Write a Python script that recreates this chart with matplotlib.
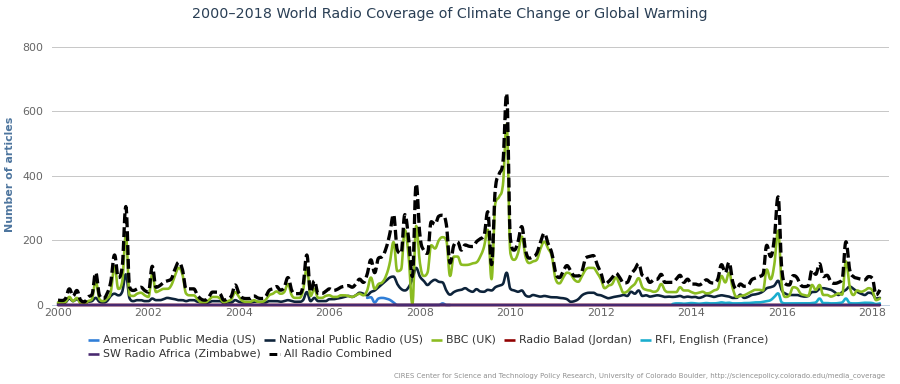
import numpy as np
import matplotlib
matplotlib.use("Agg")
import matplotlib.pyplot as plt
from matplotlib.lines import Line2D

# ------------------------------------------------------------------
# Monthly article counts, Jan 2000 .. Mar 2018
# ------------------------------------------------------------------
first_year = 2000

bbc = [
    8, 8, 10, 25, 12, 22, 5, 3, 12, 18, 75, 18,            # 2000
    12, 20, 40, 120, 50, 70, 215, 30, 28, 35, 38, 30,      # 2001
    25, 95, 40, 45, 50, 50, 60, 90, 115, 95, 35, 30,       # 2002
    30, 18, 8, 8, 15, 25, 25, 20, 8, 12, 18, 40,           # 2003
    25, 12, 10, 10, 15, 10, 10, 15, 30, 35, 42, 35,        # 2004
    40, 65, 30, 22, 22, 45, 115, 28, 50, 22, 22, 28,       # 2005
    30, 25, 25, 30, 30, 28, 25, 30, 35, 30, 45, 85,        # 2006
    50, 65, 70, 90, 130, 195, 105, 110, 232, 150, 3, 245,  # 2007
    130, 90, 100, 185, 175, 200, 210, 200, 90, 150, 150, 125,  # 2008
    124, 125, 129, 132, 150, 180, 233, 80, 315, 335, 370, 560,  # 2009
    160, 140, 160, 212, 150, 130, 135, 140, 175, 196, 175, 150,  # 2010
    80, 67, 85, 100, 95, 78, 72, 90, 110, 115, 115, 100,   # 2011
    80, 52, 60, 65, 85, 62, 38, 42, 55, 65, 83, 55,        # 2012
    47, 45, 41, 45, 65, 45, 40, 40, 40, 55, 45, 45,        # 2013
    40, 36, 38, 41, 36, 38, 45, 50, 90, 70, 100, 50,       # 2014
    25, 28, 30, 36, 42, 47, 47, 45, 110, 80, 125, 230,     # 2015
    60, 25, 30, 55, 52, 35, 31, 28, 62, 47, 62, 31,        # 2016
    31, 26, 30, 36, 32, 135, 57, 31, 45, 41, 45, 52,       # 2017
    45, 15, 20,                                            # 2018
]

npr = [
    5, 5, 8, 20, 12, 18, 8, 5, 10, 12, 22, 10,             # 2000
    8, 12, 28, 35, 30, 40, 95, 20, 12, 15, 15, 12,         # 2001
    12, 20, 15, 15, 18, 22, 20, 18, 15, 15, 12, 15,        # 2002
    15, 10, 8, 6, 8, 12, 12, 12, 6, 8, 8, 15,              # 2003
    10, 8, 8, 8, 10, 10, 8, 8, 12, 12, 12, 10,             # 2004
    12, 15, 12, 10, 10, 15, 40, 12, 22, 12, 12, 12,        # 2005
    18, 18, 20, 22, 25, 28, 25, 30, 38, 35, 30, 40,        # 2006
    45, 55, 65, 75, 85, 88, 65, 50, 45, 55, 80, 115,       # 2007
    88, 75, 62, 72, 78, 72, 70, 45, 32, 40, 45, 47,        # 2008
    52, 45, 41, 49, 42, 41, 47, 45, 55, 60, 65, 100,       # 2009
    50, 45, 41, 45, 30, 26, 31, 28, 26, 28, 26, 24,        # 2010
    24, 22, 21, 18, 10, 12, 18, 30, 36, 38, 38, 32,        # 2011
    30, 25, 21, 24, 26, 28, 31, 28, 41, 35, 45, 28,        # 2012
    30, 26, 28, 30, 28, 25, 26, 25, 26, 28, 24, 26,        # 2013
    24, 25, 22, 25, 30, 28, 25, 28, 30, 28, 26, 22,        # 2014
    22, 32, 22, 25, 31, 33, 36, 42, 52, 55, 60, 75,        # 2015
    45, 35, 31, 31, 31, 28, 26, 28, 40, 41, 50, 52,        # 2016
    50, 47, 40, 31, 40, 47, 57, 50, 41, 35, 31, 38,        # 2017
    35, 20, 22,                                            # 2018
]

combined = [
    15, 14, 20, 50, 28, 45, 15, 10, 25, 32, 100, 30,       # 2000
    20, 35, 72, 155, 85, 115, 305, 55, 45, 50, 55, 45,     # 2001
    40, 120, 55, 60, 70, 75, 80, 110, 132, 110, 50, 50,    # 2002
    50, 30, 18, 15, 25, 40, 40, 35, 15, 20, 28, 62,        # 2003
    36, 22, 20, 20, 28, 22, 20, 25, 45, 50, 57, 46,        # 2004
    55, 85, 45, 35, 35, 60, 155, 40, 75, 36, 36, 42,       # 2005
    50, 45, 48, 55, 58, 60, 55, 65, 80, 70, 95, 140,       # 2006
    100, 145, 150, 175, 220, 280, 170, 160, 280, 205, 88, 375,  # 2007
    215, 170, 160, 258, 250, 275, 278, 250, 130, 185, 195, 170,  # 2008
    186, 182, 181, 196, 205, 215, 289, 125, 360, 405, 440, 655,  # 2009
    205, 170, 195, 243, 170, 145, 150, 160, 195, 222, 190, 160,  # 2010
    100, 85, 105, 122, 105, 90, 90, 105, 146, 150, 153, 125,   # 2011
    100, 65, 72, 85, 98, 85, 68, 70, 95, 110, 128, 92,     # 2012
    88, 70, 78, 80, 95, 70, 70, 70, 80, 92, 70, 80,        # 2013
    65, 65, 62, 68, 78, 70, 68, 80, 125, 100, 132, 70,     # 2014
    50, 65, 58, 60, 78, 83, 88, 95, 185, 150, 205, 335,    # 2015
    110, 65, 62, 91, 85, 62, 57, 60, 108, 95, 128, 88,     # 2016
    92, 72, 67, 70, 80, 196, 109, 88, 83, 80, 78, 88,      # 2017
    83, 31, 47,                                            # 2018
]

# American Public Media: Nov 2006 .. Sep 2008
apm_first_month = (2006, 11)
apm = [22, 24, 8, 20, 22, 20, 16, 8, 0, 0, 0, 0, 0, 0, 0, 0, 0, 0, 0, 0, 5, 0, 0]

# RFI English: Aug 2013 .. Mar 2018
rfi_first_month = (2013, 8)
rfi = [
    3, 5, 5, 4, 5,                                # 2013
    6, 5, 4, 5, 6, 5, 5, 6, 8, 6, 7, 5,           # 2014
    5, 5, 6, 6, 7, 8, 8, 10, 12, 15, 25, 36,      # 2015
    8, 5, 5, 5, 5, 5, 5, 5, 6, 8, 20, 6,          # 2016
    6, 5, 5, 6, 8, 20, 6, 5, 5, 6, 7, 7,          # 2017
    6, 3, 5,                                      # 2018
]

# Radio Balad and SW Radio Africa stay on the zero line, Jan 2000 .. Mar 2018
radio_balad = [
    0, 0, 0, 0, 0, 0, 0, 0, 0, 0, 0, 0,  0, 0, 0, 0, 0, 0, 0, 0, 0, 0, 0, 0,
    0, 0, 0, 0, 0, 0, 0, 0, 0, 0, 0, 0,  0, 0, 0, 0, 0, 0, 0, 0, 0, 0, 0, 0,
    0, 0, 0, 0, 0, 0, 0, 0, 0, 0, 0, 0,  0, 0, 0, 0, 0, 0, 0, 0, 0, 0, 0, 0,
    0, 0, 0, 0, 0, 0, 0, 0, 0, 0, 0, 0,  0, 0, 0, 0, 0, 0, 0, 0, 0, 0, 0, 0,
    0, 0, 0, 0, 0, 0, 0, 0, 0, 0, 0, 0,  0, 0, 0, 0, 0, 0, 0, 0, 0, 0, 0, 0,
    0, 0, 0, 0, 0, 0, 0, 0, 0, 0, 0, 0,  0, 0, 0, 0, 0, 0, 0, 0, 0, 0, 0, 0,
    0, 0, 0, 0, 0, 0, 0, 0, 0, 0, 0, 0,  0, 0, 0, 0, 0, 0, 0, 0, 0, 0, 0, 0,
    0, 0, 0, 0, 0, 0, 0, 0, 0, 0, 0, 0,  0, 0, 0, 0, 0, 0, 0, 0, 0, 0, 0, 0,
    0, 0, 0, 0, 0, 0, 0, 0, 0, 0, 0, 0,  0, 0, 0, 0, 0, 0, 0, 0, 0, 0, 0, 0,
    0, 0, 0,
]
sw_radio_africa = list(radio_balad)

series_names = ["American Public Media (US)", "National Public Radio (US)", "BBC (UK)",
                "Radio Balad (Jordan)", "RFI, English (France)",
                "SW Radio Africa (Zimbabwe)", "All Radio Combined"]
year_ticks = [2000, 2002, 2004, 2006, 2008, 2010, 2012, 2014, 2016, 2018]
y_ticks = [0, 200, 400, 600, 800]

title = "2000\u20132018 World Radio Coverage of Climate Change or Global Warming"
y_title = "Number of articles"
credit = ("CIRES Center for Science and Technology Policy Research, University of Colorado Boulder, "
          "http://sciencepolicy.colorado.edu/media_coverage")

# ------------------------------------------------------------------
W, H = 900, 384
PX = 72.0 / 100.0  # points per pixel at dpi 100


def month_axis(first, n):
    y0, m0 = first
    return (y0 + (m0 - 1) / 12.0) + np.arange(n) / 12.0


def hc_spline(x, y, smoothing=1.5, n=10):
    """Highcharts-style spline through the points, sampled as Bezier curves."""
    x = np.asarray(x, float)
    y = np.asarray(y, float)
    N = len(x)
    lcx, lcy, rcx, rcy = x.copy(), y.copy(), x.copy(), y.copy()
    d = smoothing + 1.0
    for i in range(1, N - 1):
        px, py = x[i], y[i]
        lx, ly = x[i - 1], y[i - 1]
        nx, ny = x[i + 1], y[i + 1]
        lX = (smoothing * px + lx) / d
        lY = (smoothing * py + ly) / d
        rX = (smoothing * px + nx) / d
        rY = (smoothing * py + ny) / d
        if rX != lX:
            corr = ((rY - lY) * (rX - px)) / (rX - lX) + py - rY
            lY += corr
            rY += corr
        if lY > ly and lY > py:
            lY = max(ly, py); rY = 2 * py - lY
        elif lY < ly and lY < py:
            lY = min(ly, py); rY = 2 * py - lY
        if rY > ny and rY > py:
            rY = max(ny, py); lY = 2 * py - rY
        elif rY < ny and rY < py:
            rY = min(ny, py); lY = 2 * py - rY
        lcx[i], lcy[i], rcx[i], rcy[i] = lX, lY, rX, rY
    t = np.linspace(0, 1, n + 1)[1:]
    a, b, c, e = (1 - t) ** 3, 3 * (1 - t) ** 2 * t, 3 * (1 - t) * t ** 2, t ** 3
    xs, ys = [x[:1]], [y[:1]]
    for i in range(N - 1):
        xs.append(a * x[i] + b * rcx[i] + c * lcx[i + 1] + e * x[i + 1])
        ys.append(a * y[i] + b * rcy[i] + c * lcy[i + 1] + e * y[i + 1])
    return np.concatenate(xs), np.concatenate(ys)


fig = plt.figure(figsize=(W / 100, H / 100), dpi=100)
fig.patch.set_facecolor("white")

ax_left, ax_right, ax_top, ax_bottom = 52, 889, 46.7, 305
ax = fig.add_axes([ax_left / W, 1 - ax_bottom / H, (ax_right - ax_left) / W, (ax_bottom - ax_top) / H])

px_per_year = 45.24
x_first_px = 58
ax.set_xlim(first_year - (x_first_px - ax_left) / px_per_year,
            first_year + (ax_right - x_first_px) / px_per_year)
ax.set_ylim(0, 800)

colors = {
    "apm": "#2f7ed8", "npr": "#0d233a", "bbc": "#8bbc21", "balad": "#910000",
    "rfi": "#1aadce", "sw": "#492970", "all": "#000000",
}
lw = 2.6 * PX

n_all = len(combined)
t_all = month_axis((first_year, 1), n_all)

draw_list = [
    (month_axis(apm_first_month, len(apm)), apm, colors["apm"], "-", 2),
    (t_all, npr, colors["npr"], "-", 3),
    (t_all, bbc, colors["bbc"], "-", 4),
    (t_all, radio_balad, colors["balad"], "-", 5),
    (month_axis(rfi_first_month, len(rfi)), rfi, colors["rfi"], "-", 6),
    (t_all, sw_radio_africa, colors["sw"], "-", 7),
]
for tx, vals, col, ls, z in draw_list:
    sx, sy = hc_spline(tx, vals)
    ax.plot(sx, sy, color=col, lw=lw, ls=ls, zorder=z, clip_on=False,
            solid_joinstyle="round", solid_capstyle="round")

sx, sy = hc_spline(t_all, combined)
ax.plot(sx, sy, color=colors["all"], lw=3.3 * PX, ls=(0, (3, 1.2)), zorder=8, clip_on=False)

# axes styling
for s in ["top", "right", "left"]:
    ax.spines[s].set_visible(False)
ax.spines["bottom"].set_color("#c0d0e0")
ax.spines["bottom"].set_linewidth(1 * PX)
ax.spines["bottom"].set_zorder(1)
ax.set_yticks(y_ticks)
ax.set_yticklabels([str(v) for v in y_ticks])
ax.yaxis.grid(True, color="#c8c8c8", lw=1 * PX)
ax.set_axisbelow(True)
ax.set_xticks(year_ticks)
ax.set_xticklabels([str(v) for v in year_ticks])
ax.tick_params(axis="y", length=0, pad=9 * PX, labelsize=11 * PX, labelcolor="#666666")
ax.tick_params(axis="x", length=0, pad=3 * PX, labelsize=11 * PX, labelcolor="#666666")

fig.text(0.5, 1 - 14 / H, title, ha="center", va="center", fontsize=14.3 * PX, color="#2a3f55")
fig.text(10 / W, 1 - 174 / H, y_title, rotation=90, ha="center", va="center",
         fontsize=11 * PX, fontweight="bold", color="#4d759e")
fig.text(885 / W, 1 - 376 / H, credit, ha="right", va="center", fontsize=7 * PX, color="#909090")

# legend (laid out like the chart's own: flows left to right, wraps)
legend_items = [
    (series_names[0], colors["apm"], "-"),
    (series_names[1], colors["npr"], "-"),
    (series_names[2], colors["bbc"], "-"),
    (series_names[3], colors["balad"], "-"),
    (series_names[4], colors["rfi"], "-"),
    (series_names[5], colors["sw"], "-"),
    (series_names[6], colors["all"], "--"),
]
rows = [legend_items[:5], legend_items[5:]]
row_y = [340, 354]
fig.canvas.draw()
renderer = fig.canvas.get_renderer()
sym_w, sym_gap, item_gap = 11, 4, 8
for row, yy in zip(rows, row_y):
    x = 88
    for label, col, ls in row:
        yf = 1 - yy / H
        if ls == "--":
            fig.add_artist(Line2D([x / W, (x + sym_w) / W], [yf, yf], transform=fig.transFigure,
                                  color=col, lw=3.0 * PX, ls=(0, (2.6, 1.0))))
        else:
            fig.add_artist(Line2D([x / W, (x + sym_w) / W], [yf, yf], transform=fig.transFigure,
                                  color=col, lw=2.6 * PX, solid_capstyle="butt"))
        tt = fig.text((x + sym_w + sym_gap) / W, yf, label, ha="left", va="center",
                      fontsize=11 * PX, color="#333333")
        bb = tt.get_window_extent(renderer)
        x = bb.x1 + item_gap

fig.savefig("out.png", dpi=100, facecolor="white")
